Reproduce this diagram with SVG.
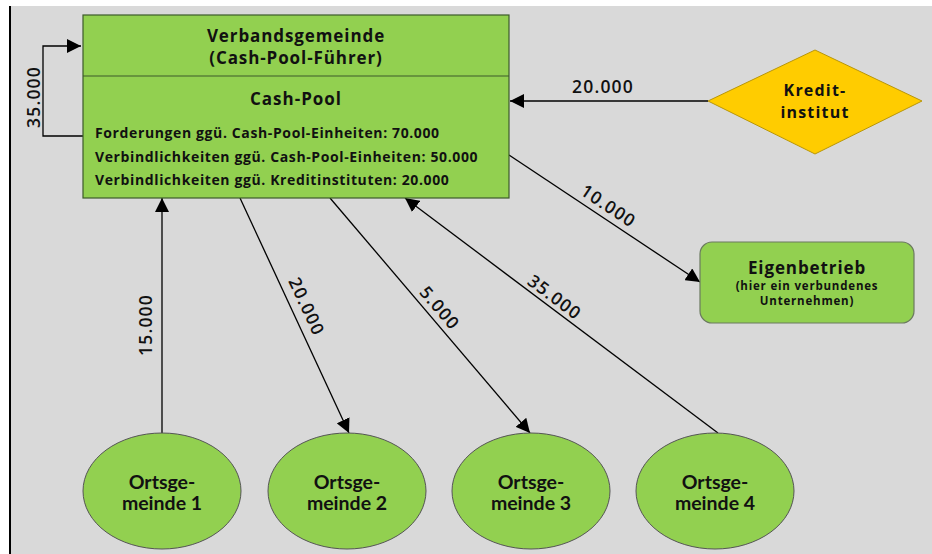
<svg xmlns="http://www.w3.org/2000/svg" width="932" height="554" viewBox="0 0 932 554">
<defs>
<marker id="ah" viewBox="0 0 10 10" refX="10" refY="5" markerWidth="14" markerHeight="14" markerUnits="userSpaceOnUse" orient="auto">
<path d="M0,0 L10,5 L0,10 z" fill="#000"/>
</marker>
<style>
.bg{fill:#d9d9d9}
.green{fill:#92d050}
.t{font-family:"Open Sans","Noto Sans",sans-serif;font-weight:bold;fill:#111;text-anchor:middle}
.c{font-family:Lato,"Open Sans",sans-serif;font-weight:bold;fill:#111;text-anchor:middle;font-size:19.5px}
.lbl{font-family:"Open Sans","Noto Sans",sans-serif;font-weight:600;fill:#111;text-anchor:middle;font-size:17.5px;letter-spacing:1.2px}
.body{font-size:14px;letter-spacing:0.62px;text-anchor:start}
.con{stroke:#000;stroke-width:1.3;fill:none}
</style>
</defs>
<rect x="0" y="0" width="932" height="554" fill="#fff"/>
<rect class="bg" x="10" y="6" width="922" height="548"/>
<line x1="10" y1="6" x2="10" y2="554" stroke="#000" stroke-width="2"/>

<g id="connectors">
<polyline class="con" points="83,136 43,136 43,46 81,46" marker-end="url(#ah)"/>
<line class="con" x1="708" y1="101" x2="510" y2="101" marker-end="url(#ah)"/>
<line class="con" x1="509" y1="155" x2="700" y2="282" marker-end="url(#ah)"/>
<line class="con" x1="162" y1="434" x2="162" y2="198" marker-end="url(#ah)"/>
<line class="con" x1="240" y1="198" x2="349" y2="433" marker-end="url(#ah)"/>
<line class="con" x1="330" y1="198" x2="530" y2="433" marker-end="url(#ah)"/>
<line class="con" x1="718" y1="433" x2="405" y2="198" marker-end="url(#ah)"/>
<text class="lbl" transform="translate(40,97) rotate(-90)">35.000</text>
<text class="lbl" x="603" y="93">20.000</text>
<text class="lbl" transform="translate(605,211) rotate(33.6)">10.000</text>
<text class="lbl" transform="translate(152,325) rotate(-90)">15.000</text>
<text class="lbl" transform="translate(301,309) rotate(65)">20.000</text>
<text class="lbl" transform="translate(435,312) rotate(49.6)">5.000</text>
<text class="lbl" transform="translate(551,302) rotate(36.9)">35.000</text>
</g>

<g id="verbandsgemeinde">
<rect class="green" x="83" y="15" width="426" height="183" stroke="#3d5a2a" stroke-width="1.2"/>
<line x1="83" y1="76" x2="509" y2="76" stroke="#3d5a2a" stroke-width="1.2"/>
<text class="t" x="296" y="42" font-size="17" letter-spacing="0.9">Verbandsgemeinde</text>
<text class="t" x="296" y="64" font-size="17" letter-spacing="0.9">(Cash-Pool-Führer)</text>
<text class="t" x="296" y="105" font-size="17" letter-spacing="1">Cash-Pool</text>
<text class="t body" x="95" y="138">Forderungen ggü. Cash-Pool-Einheiten: 70.000</text>
<text class="t body" x="95" y="162">Verbindlichkeiten ggü. Cash-Pool-Einheiten: 50.000</text>
<text class="t body" x="95" y="185">Verbindlichkeiten ggü. Kreditinstituten: 20.000</text>
</g>

<g id="kreditinstitut">
<polygon points="708,101 815,50 922,101 815,154" fill="#ffcc00" stroke="#b8960a" stroke-width="1"/>
<text class="t" x="815" y="96" font-size="16" letter-spacing="1.2">Kredit-</text>
<text class="t" x="815" y="118" font-size="16" letter-spacing="1.2">institut</text>
</g>

<g id="eigenbetrieb">
<rect class="green" x="700" y="242" width="214" height="81" rx="12" stroke="#6b7a5f" stroke-width="1.2"/>
<text class="t" x="807" y="274" font-size="17" letter-spacing="0.9">Eigenbetrieb</text>
<text class="t" x="807" y="290" font-size="11.5" letter-spacing="0.8">(hier ein verbundenes</text>
<text class="t" x="807" y="305" font-size="11.5" letter-spacing="0.8">Unternehmen)</text>
</g>

<g id="ortsgemeinde1">
<ellipse class="green" cx="162" cy="491" rx="79" ry="58" stroke="#555" stroke-width="1"/>
<text class="c" x="162" y="489">Ortsge-</text>
<text class="c" x="162" y="510">meinde 1</text>
</g>
<g id="ortsgemeinde2">
<ellipse class="green" cx="347" cy="491" rx="79" ry="58" stroke="#555" stroke-width="1"/>
<text class="c" x="347" y="489">Ortsge-</text>
<text class="c" x="347" y="510">meinde 2</text>
</g>
<g id="ortsgemeinde3">
<ellipse class="green" cx="531" cy="491" rx="79" ry="58" stroke="#555" stroke-width="1"/>
<text class="c" x="531" y="489">Ortsge-</text>
<text class="c" x="531" y="510">meinde 3</text>
</g>
<g id="ortsgemeinde4">
<ellipse class="green" cx="715" cy="491" rx="79" ry="58" stroke="#555" stroke-width="1"/>
<text class="c" x="715" y="489">Ortsge-</text>
<text class="c" x="715" y="510">meinde 4</text>
</g>
</svg>
